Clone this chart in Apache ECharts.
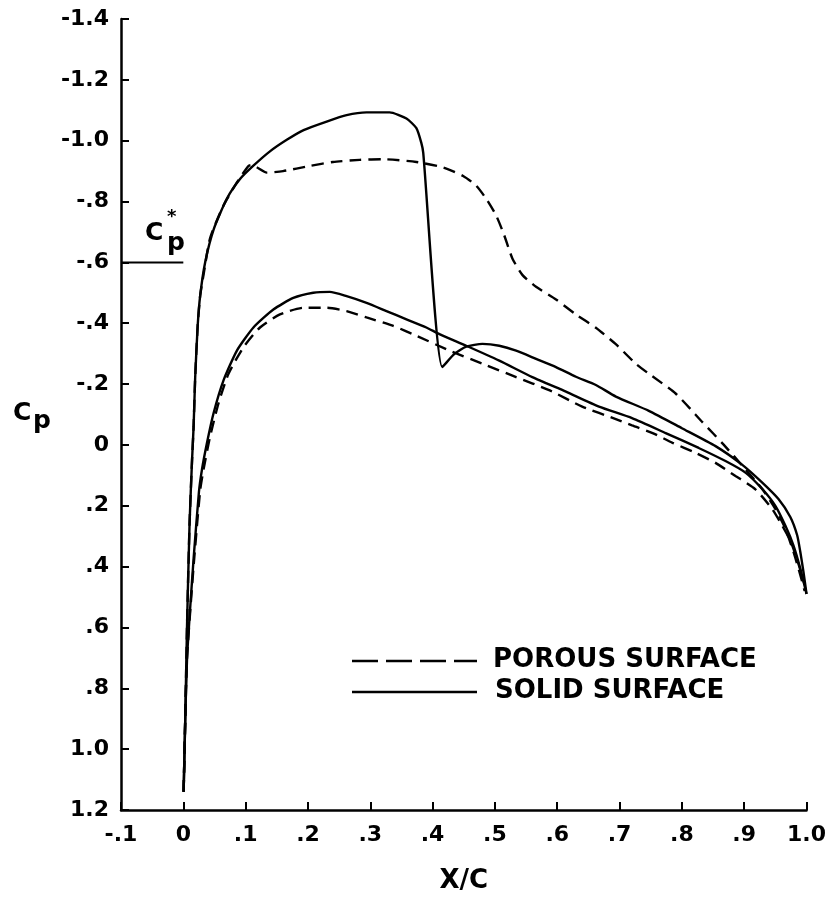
<!DOCTYPE html>
<html><head><meta charset="utf-8">
<script src="https://cdn.jsdelivr.net/npm/echarts@6/dist/echarts.min.js"></script>
<style>html,body{margin:0;padding:0;background:#fff}#c{width:829px;height:899px}</style>
</head><body><div id="c"></div>
<script>
// ---- tick labels ----
const xTickLabels = ['-.1','0','.1','.2','.3','.4','.5','.6','.7','.8','.9','1.0'];
const yTickLabels = ['-1.4','-1.2','-1.0','-.8','-.6','-.4','-.2','0','.2','.4','.6','.8','1.0','1.2'];
const xMin = -0.1, xMax = 1.0, xStep = 0.1;
const yMin = -1.4, yMax = 1.2, yStep = 0.2;

// ---- series values [x/c, Cp] ----
const solidUpper = [
 [0.0005,1.14],[0.003,0.91],[0.006,0.59],[0.010,0.26],[0.014,0.05],[0.0165,-0.06],[0.019,-0.22],
 [0.023,-0.39],[0.027,-0.49],[0.035,-0.60],[0.049,-0.71],[0.070,-0.81],[0.091,-0.874],[0.112,-0.917],
 [0.139,-0.965],[0.166,-1.003],[0.193,-1.035],[0.230,-1.063],[0.262,-1.084],[0.294,-1.093],[0.331,-1.093],
 [0.358,-1.073],[0.374,-1.041],[0.382,-0.992],[0.385,-0.96],[0.4155,-0.256],[0.435,-0.299],[0.454,-0.323],
 [0.480,-0.332],[0.507,-0.326],[0.534,-0.310],[0.566,-0.283],[0.598,-0.256],[0.630,-0.224],[0.662,-0.197],
 [0.694,-0.159],[0.747,-0.112],[0.800,-0.055],[0.854,0.004],[0.896,0.064],[0.929,0.124],[0.955,0.178],
 [0.974,0.237],[0.985,0.297],[0.990,0.351],[0.995,0.416],[1.0,0.49]
];
const porousUpper = [
 [0.0005,1.14],[0.003,0.91],[0.006,0.59],[0.010,0.26],[0.014,0.05],[0.0165,-0.06],[0.019,-0.22],
 [0.023,-0.39],[0.027,-0.49],[0.0325,-0.56],[0.043,-0.68],[0.0645,-0.787],[0.086,-0.863],[0.1045,-0.917],
 [0.110,-0.92],[0.134,-0.895],[0.160,-0.90],[0.203,-0.917],[0.240,-0.93],[0.283,-0.937],[0.320,-0.939],
 [0.374,-0.930],[0.417,-0.912],[0.449,-0.884],[0.470,-0.852],[0.486,-0.809],[0.502,-0.754],[0.515,-0.689],
 [0.528,-0.613],[0.544,-0.559],[0.566,-0.520],[0.598,-0.478],[0.630,-0.429],[0.662,-0.385],[0.694,-0.331],
 [0.726,-0.267],[0.747,-0.234],[0.790,-0.169],[0.832,-0.077],[0.867,-0.001],[0.902,0.080],[0.929,0.145],
 [0.950,0.210],[0.966,0.275],[0.979,0.351],[0.990,0.427],[0.997,0.48]
];
const solidLower = [
 [0.0005,1.14],[0.003,0.91],[0.006,0.70],[0.011,0.536],[0.0165,0.374],[0.025,0.156],[0.030,0.08],
 [0.038,-0.007],[0.0485,-0.104],[0.0645,-0.212],[0.086,-0.310],[0.1125,-0.386],[0.1445,-0.445],
 [0.1765,-0.483],[0.2085,-0.500],[0.235,-0.503],[0.262,-0.489],[0.294,-0.467],[0.326,-0.440],
 [0.358,-0.413],[0.390,-0.386],[0.411,-0.364],[0.454,-0.326],[0.507,-0.277],[0.560,-0.223],
 [0.614,-0.175],[0.667,-0.126],[0.720,-0.088],[0.774,-0.039],[0.827,0.010],[0.870,0.053],[0.902,0.091],
 [0.929,0.145],[0.950,0.200],[0.966,0.265],[0.979,0.330],[0.990,0.406],[1.0,0.49]
];
const porousLower = [
 [0.0005,1.14],[0.003,0.91],[0.006,0.70],[0.012,0.52],[0.018,0.36],[0.027,0.15],[0.0325,0.08],
 [0.043,-0.028],[0.0565,-0.137],[0.0725,-0.234],[0.0965,-0.321],[0.123,-0.386],[0.155,-0.429],
 [0.193,-0.451],[0.230,-0.451],[0.262,-0.440],[0.294,-0.419],[0.336,-0.392],[0.374,-0.359],
 [0.427,-0.310],[0.480,-0.267],[0.534,-0.223],[0.587,-0.180],[0.640,-0.126],[0.694,-0.085],
 [0.720,-0.064],[0.753,-0.039],[0.785,-0.007],[0.822,0.026],[0.854,0.059],[0.886,0.102],[0.918,0.146],
 [0.945,0.211],[0.961,0.265],[0.975,0.319],[0.986,0.384],[0.997,0.460]
];
// sonic pressure coefficient marker
const cpStarX = [-0.1, 0.0];
const cpStarValue = -0.6;

const legendNames = ['POROUS SURFACE', 'SOLID SURFACE'];

const FONT = '"DejaVu Sans", sans-serif';
const chart = echarts.init(document.getElementById('c'), null, {renderer: 'canvas'});

function lineSeries(name, data, dashed) {
  return {
    name, type: 'line', data, showSymbol: false, symbol: 'none', smooth: 0.2,
    clip: false, silent: true,
    lineStyle: {color: '#000', width: 2.4, type: dashed ? [12, 7] : 'solid'}
  };
}

const option = {
  backgroundColor: '#fff',
  animation: false,
  grid: {left: 121, top: 19, right: 22, bottom: 77},
  xAxis: {
    type: 'value', min: xMin, max: xMax, interval: xStep,
    axisLine: {show: true, onZero: false, lineStyle: {color: '#000', width: 2.5}},
    axisTick: {show: true, inside: true, length: 8, lineStyle: {color: '#000', width: 2}},
    axisLabel: {margin: 14, color: '#000', fontFamily: FONT, fontWeight: 'bold', fontSize: 22,
      formatter: v => xTickLabels[Math.round((v - xMin) / xStep)]},
    splitLine: {show: false},
    name: 'X/C', nameLocation: 'middle', nameGap: 58,
    nameTextStyle: {color: '#000', fontFamily: FONT, fontWeight: 'bold', fontSize: 26}
  },
  yAxis: {
    type: 'value', inverse: true, min: yMin, max: yMax, interval: yStep,
    axisLine: {show: true, onZero: false, lineStyle: {color: '#000', width: 2.5}},
    axisTick: {show: true, inside: true, length: 8, lineStyle: {color: '#000', width: 2}},
    axisLabel: {margin: 12, color: '#000', fontFamily: FONT, fontWeight: 'bold', fontSize: 22,
      formatter: v => yTickLabels[Math.round((v - yMin) / yStep)]},
    splitLine: {show: false}
  },
  series: [
    lineSeries(legendNames[0] + ' upper', porousUpper, true),
    lineSeries(legendNames[0] + ' lower', porousLower, true),
    lineSeries(legendNames[1] + ' upper', solidUpper, false),
    lineSeries(legendNames[1] + ' lower', solidLower, false),
    {
      name: 'Cp*', type: 'line', showSymbol: false, symbol: 'none', silent: true,
      data: cpStarX.map(x => [x, cpStarValue]),
      lineStyle: {color: '#000', width: 2}
    }
  ],
  graphic: [
    // y axis name C_p
    {type: 'text', left: 13, top: 401, style: {text: 'C', font: 'bold 25px ' + FONT, fill: '#000'}},
    {type: 'text', left: 33, top: 409, style: {text: 'p', font: 'bold 25px ' + FONT, fill: '#000'}},
    // C_p* label
    {type: 'text', left: 145, top: 221, style: {text: 'C', font: 'bold 25px ' + FONT, fill: '#000'}},
    {type: 'text', left: 167, top: 208, style: {text: '*', font: 'bold 18px ' + FONT, fill: '#000'}},
    {type: 'text', left: 167, top: 231, style: {text: 'p', font: 'bold 25px ' + FONT, fill: '#000'}},
    // legend
    {type: 'line', shape: {x1: 352, y1: 661, x2: 477, y2: 661},
      style: {stroke: '#000', lineWidth: 2.5, lineDash: [26, 8]}},
    {type: 'text', left: 493, top: 647, style: {text: legendNames[0], font: 'bold 26px ' + FONT, fill: '#000'}},
    {type: 'line', shape: {x1: 352, y1: 692, x2: 477, y2: 692},
      style: {stroke: '#000', lineWidth: 2.5}},
    {type: 'text', left: 495, top: 678, style: {text: legendNames[1], font: 'bold 26px ' + FONT, fill: '#000'}}
  ]
};
chart.setOption(option);
</script>
</body></html>
